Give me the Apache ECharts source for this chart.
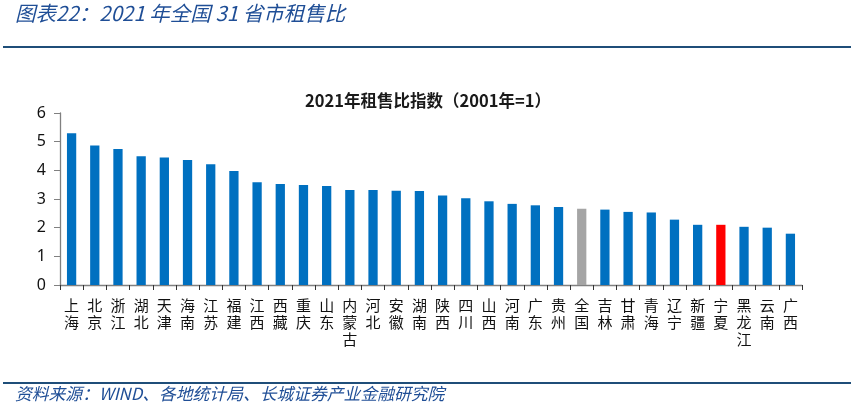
<!DOCTYPE html>
<html><head><meta charset="utf-8">
<script src="https://cdn.jsdelivr.net/npm/echarts@6/dist/echarts.min.js"></script>
<style>html,body{margin:0;padding:0;background:#fff}#c{width:851px;height:405px}</style>
</head><body><div id="c"></div>
<script>
const categories = ['上海','北京','浙江','湖北','天津','海南','江苏','福建','江西','西藏','重庆','山东','内蒙古','河北','安徽','湖南','陕西','四川','山西','河南','广东','贵州','全国','吉林','甘肃','青海','辽宁','新疆','宁夏','黑龙江','云南','广西'];
const values = [5.29,4.87,4.74,4.49,4.45,4.36,4.21,3.98,3.58,3.52,3.49,3.45,3.31,3.31,3.29,3.28,3.12,3.03,2.92,2.83,2.78,2.72,2.66,2.63,2.55,2.53,2.28,2.10,2.10,2.03,2.00,1.79];
const yTicks = [0,1,2,3,4,5,6];
const headerTitle = '图表22：2021 年全国 31 省市租售比';
const chartTitle = '2021年租售比指数（2001年=1）';
const sourceText = '资料来源：WIND、各地统计局、长城证券产业金融研究院';
const highlight = {'全国':'#A5A5A5','宁夏':'#FF0000'};

const font = '"Noto Sans CJK SC","Noto Sans",sans-serif';
const chart = echarts.init(document.getElementById('c'), null, {renderer:'canvas'});
chart.setOption({
  animation:false,
  textStyle:{fontFamily:font},
  title:{text:chartTitle,left:423,textAlign:'center',top:87,textStyle:{fontSize:16.5,fontWeight:'bold',color:'#1a1a1a',fontFamily:font}},
  grid:{left:60,right:49,top:113,bottom:120,containLabel:false},
  xAxis:{type:'category',data:categories,boundaryGap:true,
    axisLine:{lineStyle:{color:'#808080',width:1.3}},
    axisTick:{show:true,inside:false,length:5,alignWithLabel:false,lineStyle:{color:'#333'}},
    axisLabel:{interval:0,margin:12,fontSize:15,lineHeight:17,color:'#111',fontFamily:font,
      formatter:v=>v.split('').join('\n')}},
  yAxis:{type:'value',min:yTicks[0],max:yTicks[yTicks.length-1],interval:1,
    splitLine:{show:false},
    axisLine:{show:true,lineStyle:{color:'#808080',width:1.3}},
    axisTick:{show:true,length:6,lineStyle:{color:'#808080'}},
    axisLabel:{fontSize:16,color:'#111',margin:14,fontFamily:'"Noto Sans",sans-serif'}},
  series:[{type:'bar',barWidth:'40%',
    data:categories.map((c,i)=>({value:values[i],itemStyle:{color:highlight[c]||'#0070C0'}}))}],
  graphic:[
    {type:'text',left:15,top:3,style:{text:headerTitle,fontSize:20.5,fontStyle:'italic',fill:'#1F4E96',fontFamily:font}},
    {type:'rect',shape:{x:3,y:46,width:848,height:2},style:{fill:'#1F4E79'}},
    {type:'rect',shape:{x:3,y:382,width:848,height:2},style:{fill:'#1F4E79'}},
    {type:'text',left:15,top:385,style:{text:sourceText,fontSize:16.8,fontStyle:'italic',fill:'#1F4E96',fontFamily:font}}
  ]
});
</script></body></html>
